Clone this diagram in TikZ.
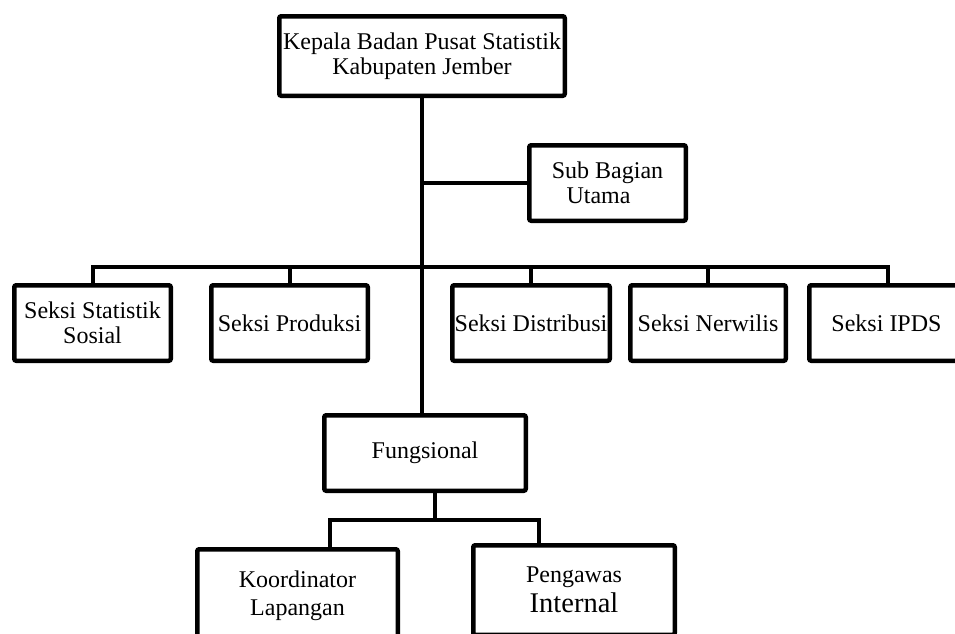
\documentclass[tikz,border=0pt]{standalone}
\usepackage{fontspec}
\setmainfont{Liberation Serif}
\begin{document}
\begin{tikzpicture}[x=1pt,y=-1pt,
  box/.style={draw, line width=4.5pt, rounded corners=2pt, inner sep=0pt, align=center,
    font=\fontsize{24}{24.5}\selectfont},
  link/.style={line width=4pt}]
\useasboundingbox (0,0) rectangle (955,633);
\clip (0,0) rectangle (955,633);
% boxes
\node[box, minimum width=285.5pt, minimum height=79.5pt] (top) at (422,56)
  {Kepala Badan Pusat Statistik\\Kabupaten Jember};
\node[box, minimum width=156.5pt, minimum height=75.5pt] (sub) at (607.5,183)
  {Sub Bagian\\Utama\hspace*{18pt}};
\node[box, minimum width=156.5pt, minimum height=75.5pt] (s1) at (92.5,323)
  {Seksi Statistik\\Sosial};
\node[box, minimum width=156.5pt, minimum height=75.5pt] (s2) at (289.5,323)
  {Seksi Produksi};
\node[box, minimum width=157.5pt, minimum height=75.5pt] (s3) at (531,323)
  {Seksi Distribusi};
\node[box, minimum width=155.5pt, minimum height=75.5pt] (s4) at (708,323)
  {Seksi Nerwilis};
\node[box, minimum width=154.5pt, minimum height=75.5pt] (s5) at (886.5,323)
  {Seksi IPDS};
\node[box, minimum width=201.5pt, minimum height=75.5pt] (fung) at (425,453)
  {Fungsional};
\node[box, minimum width=200.5pt, minimum height=93.5pt, font=\fontsize{24}{28}\selectfont] (koord) at (297.5,596)
  {Koordinator\\Lapangan};
\node[box, minimum width=201.5pt, minimum height=89.5pt] (peng) at (574,590)
  {\fontsize{24}{28}\selectfont Pengawas\\[4pt]{\fontsize{28.5}{34}\selectfont Internal}};
% connectors
\coordinate (bus) at (0,267);
\coordinate (fbus) at (0,520);
\draw[link] (top.south) -- (top.south |- fung.north);
\draw[link] (top.south |- sub.west) -- (sub.west);
\draw[link] (s1.north) |- ([xshift=1.5pt]s5.north |- bus) -- ([xshift=1.5pt]s5.north);
\foreach \n in {s2,s3,s4} \draw[link] (\n.north) -- (\n.north |- bus);
\draw[link] ([xshift=10pt]fung.south) -- ([xshift=10pt]fung.south |- fbus);
\draw[link] ([xshift=32.5pt]koord.north) |- ([xshift=-35pt]peng.north |- fbus) -- ([xshift=-35pt]peng.north);
\end{tikzpicture}
\end{document}
